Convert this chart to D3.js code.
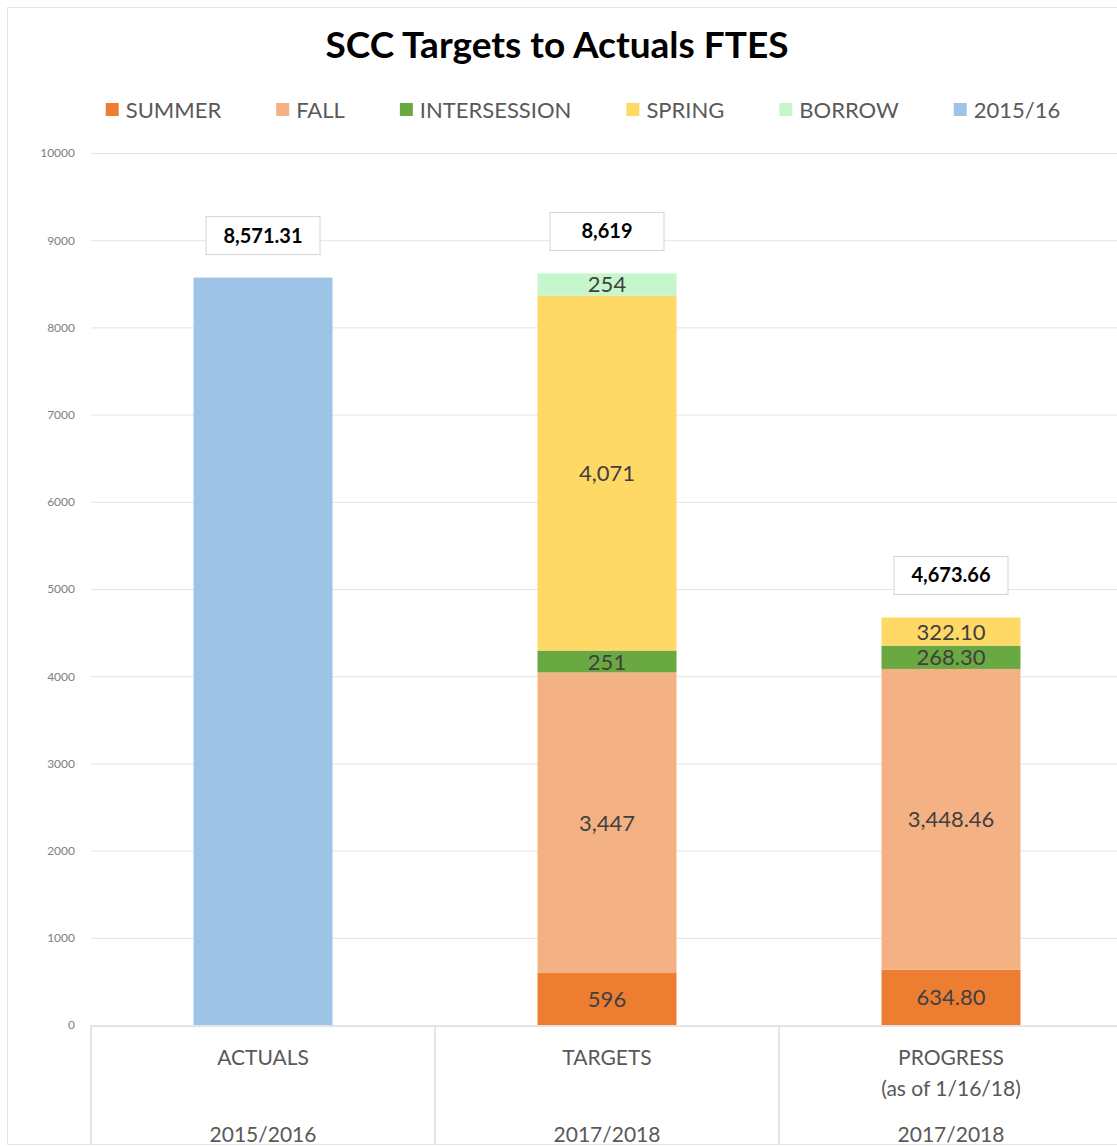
<!DOCTYPE html>
<html>
<head>
<meta charset="utf-8">
<script src="https://cdn.jsdelivr.net/npm/d3@7"></script>
<style>
  body { margin: 0; background: #fff; }
  text { font-family: Lato, "Open Sans", sans-serif; }
</style>
</head>
<body>
<div id="chart"></div>
<script>
var categories = ["ACTUALS", "TARGETS", "PROGRESS"];
var subLabels = ["", "", "(as of 1/16/18)"];
var yearLabels = ["2015/2016", "2017/2018", "2017/2018"];
var seriesNames = ["SUMMER", "FALL", "INTERSESSION", "SPRING", "BORROW", "2015/16"];
var seriesColors = ["#ed7d31", "#f4b183", "#6aa842", "#ffd966", "#c6f6cb", "#9dc3e6"];

var summer = [0, 596, 634.80];
var fall = [0, 3447, 3448.46];
var intersession = [0, 251, 268.30];
var spring = [0, 4071, 322.10];
var borrow = [0, 254, 0];
var actual1516 = [8571.31, 0, 0];
var labelFormats = [",.2f", ",d", ",.2f"];
var yTicks = [0, 1000, 2000, 3000, 4000, 5000, 6000, 7000, 8000, 9000, 10000];

var w = 1117, h = 1147;
var plotLeft = 91, plotRight = 1123, plotTop = 153, plotBottom = 1025, boxBottom = 1144;

var rows = categories.map(function(c, i) {
    return {cat: c, SUMMER: summer[i], FALL: fall[i], INTERSESSION: intersession[i],
            SPRING: spring[i], BORROW: borrow[i], "2015/16": actual1516[i], fmt: labelFormats[i]};
});

var stacked = d3.stack().keys(seriesNames)(rows);

var y = d3.scaleLinear().domain([0, 10000]).range([plotBottom, plotTop]);
var x = d3.scaleBand().domain(categories).range([plotLeft, plotRight])
    .paddingInner(0.596).paddingOuter(0.298);
var xBox = d3.scaleBand().domain(categories).range([plotLeft, plotRight]);
var color = d3.scaleOrdinal().domain(seriesNames).range(seriesColors);

var svg = d3.select("#chart").append("svg")
    .attr("width", w)
    .attr("height", h);

// outer chart border
svg.append("rect")
    .attr("x", 7.5).attr("y", 7.5)
    .attr("width", w + 20).attr("height", boxBottom - 7)
    .attr("fill", "#fff")
    .attr("stroke", "#e4e4e4");

svg.append("text")
    .attr("x", 557).attr("y", 58)
    .attr("text-anchor", "middle")
    .attr("font-size", "37px")
    .attr("font-weight", "bold")
    .attr("fill", "#000")
    .text("SCC Targets to Actuals FTES");

///////// LEGEND /////////
var legend = svg.append("g").attr("transform", "translate(0,110)");
var items = legend.selectAll("g")
    .data(seriesNames)
    .enter().append("g");
items.append("rect")
    .attr("y", -7).attr("width", 13).attr("height", 13)
    .attr("fill", function(d) { return color(d); });
items.append("text")
    .attr("x", 20).attr("y", 8)
    .attr("font-size", "22px")
    .attr("fill", "#595959")
    .text(function(d) { return d; });
var gap = 55;
var lx = 0;
var offsets = [];
items.each(function() {
    var tw = d3.select(this).select("text").node().getComputedTextLength();
    offsets.push(lx);
    lx += 20 + tw + gap;
});
var legendStart = 583 - (lx - gap) / 2;
items.attr("transform", function(d, i) {
    return "translate(" + (legendStart + offsets[i]) + ",0)";
});

///////// AXES /////////
svg.append("g")
    .attr("transform", "translate(" + plotLeft + ",0)")
    .call(d3.axisLeft(y).tickValues(yTicks).tickSize(-(plotRight - plotLeft)).tickFormat(""))
    .call(function(g) {
        g.select(".domain").remove();
        g.selectAll("line").attr("stroke", "#e3e3e3");
    });

svg.append("g")
    .attr("transform", "translate(" + (plotLeft - 13) + ",0)")
    .call(d3.axisLeft(y).tickValues(yTicks).tickSize(0).tickFormat(d3.format("d")))
    .call(function(g) {
        g.select(".domain").remove();
        g.selectAll("text")
            .attr("font-size", "12px")
            .attr("fill", "#808080")
            .attr("font-family", "Lato, sans-serif");
    });

///////// CATEGORY BOXES /////////
var catG = svg.append("g");
catG.selectAll("line.sep")
    .data(categories)
    .enter().append("line")
    .attr("class", "sep")
    .attr("x1", function(d) { return xBox(d); })
    .attr("x2", function(d) { return xBox(d); })
    .attr("y1", plotBottom).attr("y2", boxBottom)
    .attr("stroke", "#e6e6e6").attr("stroke-width", 2);
catG.append("line")
    .attr("x1", plotLeft).attr("x2", plotRight)
    .attr("y1", plotBottom + 1).attr("y2", plotBottom + 1)
    .attr("stroke", "#e3e3e3").attr("stroke-width", 2);

function catText(cls, yPos, labels) {
    catG.selectAll("text." + cls)
        .data(categories)
        .enter().append("text")
        .attr("class", cls)
        .attr("x", function(d) { return xBox(d) + xBox.bandwidth() / 2; })
        .attr("y", yPos)
        .attr("text-anchor", "middle")
        .attr("font-size", "21px")
        .attr("fill", "#595959")
        .text(function(d, i) { return labels[i]; });
}
catText("cat", 1065, categories);
catText("sub", 1096, subLabels);
catText("year", 1142, yearLabels);

///////// BARS /////////
var layers = svg.selectAll("g.layer")
    .data(stacked)
    .enter().append("g")
    .attr("class", "layer")
    .attr("fill", function(d) { return color(d.key); });

layers.selectAll("rect")
    .data(function(d) { return d.filter(function(s) { return s[1] - s[0] > 0; }); })
    .enter().append("rect")
    .attr("x", function(d) { return x(d.data.cat); })
    .attr("width", x.bandwidth())
    .attr("y", function(d) { return y(d[1]); })
    .attr("height", function(d) { return y(d[0]) - y(d[1]); });

// segment labels (not on the single 2015/16 bar)
layers.filter(function(d) { return d.key !== "2015/16"; })
    .selectAll("text")
    .data(function(d) { return d.filter(function(s) { return s[1] - s[0] > 0; }); })
    .enter().append("text")
    .attr("x", function(d) { return x(d.data.cat) + x.bandwidth() / 2; })
    .attr("y", function(d) { return (y(d[0]) + y(d[1])) / 2 + 8; })
    .attr("text-anchor", "middle")
    .attr("font-size", "22px")
    .attr("fill", "#404040")
    .text(function(d) { return d3.format(d.data.fmt)(d[1] - d[0]); });

///////// TOTAL BOXES /////////
var totals = rows.map(function(r) {
    return {cat: r.cat, fmt: r.fmt, total: d3.sum(seriesNames, function(k) { return r[k]; })};
});
var tot = svg.selectAll("g.total")
    .data(totals)
    .enter().append("g")
    .attr("class", "total")
    .attr("transform", function(d) {
        return "translate(" + (x(d.cat) + x.bandwidth() / 2) + "," + (y(d.total) - 42) + ")";
    });
tot.append("rect")
    .attr("x", -57).attr("y", -19)
    .attr("width", 114).attr("height", 38)
    .attr("fill", "#fff")
    .attr("stroke", "#d4d4d4");
tot.append("text")
    .attr("y", 7)
    .attr("text-anchor", "middle")
    .attr("font-size", "20px")
    .attr("font-weight", "bold")
    .attr("fill", "#000")
    .text(function(d) { return d3.format(d.fmt)(d.total); });
</script>
</body>
</html>
